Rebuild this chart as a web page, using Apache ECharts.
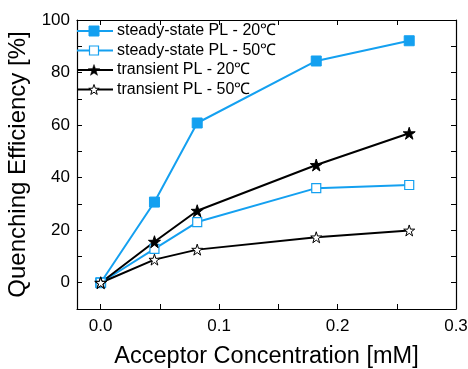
<!DOCTYPE html>
<html><head><meta charset="utf-8">
<script src="https://cdn.jsdelivr.net/npm/echarts@6/dist/echarts.min.js"></script>
<style>html,body{margin:0;padding:0;background:#fff}#c{width:468px;height:369px}</style>
</head><body><div id="c"></div>
<script>
const xVals = [0, 0.0454, 0.0815, 0.182, 0.2605];
const ss20 = [0, 30.7, 60.8, 84.4, 92.1];
const ss50 = [0, 12.9, 23.1, 36.0, 37.2];
const tr20 = [0, 15.6, 27.4, 44.8, 56.9];
const tr50 = [0, 8.8, 12.6, 17.3, 19.9];
const seriesNames = ['steady-state PL - 20\u2103','steady-state PL - 50\u2103','transient PL - 20\u2103','transient PL - 50\u2103'];
const xTickVals = [0, 0.1, 0.2, 0.3];
const yTickVals = [0, 20, 40, 60, 80, 100];
const yMinorVals = [-10, 0, 10, 20, 30, 40, 50, 60, 70, 80, 90, 100];
const xMinorVals = [0, 0.05, 0.1, 0.15, 0.2, 0.25, 0.3];
const xTitle = 'Acceptor Concentration [mM]';
const yTitle = 'Quenching Efficiency [%]';

const BLUE = '#14a0f0';
const STAR = 'path://M50,0 L61.2,34.5 L97.6,34.5 L68.2,55.9 L79.4,90.5 L50,69.1 L20.6,90.5 L31.8,55.9 L2.4,34.5 L38.8,34.5 Z';
const FONT = 'Liberation Sans, Arial, sans-serif';
function pairs(ys){ return xVals.map((x,i)=>[x, ys[i]]); }
function starPoints(cx, cy, r){
  const pts = [];
  for (let k = 0; k < 10; k++) {
    const a = -Math.PI/2 + k * Math.PI/5;
    const rr = k % 2 ? r * 0.4 : r;
    pts.push([cx + rr*Math.cos(a), cy + rr*Math.sin(a)]);
  }
  return pts;
}

const styles = [
  {line:BLUE, kind:'rect', fill:BLUE, stroke:BLUE, size:10, bw:1},
  {line:BLUE, kind:'rect', fill:'#fff', stroke:BLUE, size:9, bw:1.2},
  {line:'#000', kind:'star', fill:'#000', stroke:'#000', size:12, bw:0.5},
  {line:'#000', kind:'star', fill:'#fff', stroke:'#000', size:11, bw:1}
];

const legendEls = [];
seriesNames.forEach((name, i) => {
  const s = styles[i];
  const y = 31 + i * 19.5;
  legendEls.push({type:'line', shape:{x1:77, y1:y, x2:113, y2:y}, style:{stroke:s.line, lineWidth:2}, z:10});
  if (s.kind === 'rect') {
    legendEls.push({type:'rect', shape:{x:94 - s.size/2, y:y - s.size/2, width:s.size, height:s.size},
      style:{fill:s.fill, stroke:s.stroke, lineWidth:s.bw}, z:11});
  } else {
    legendEls.push({type:'polygon', shape:{points:starPoints(94, y + 0.5, s.size/2)},
      style:{fill:s.fill, stroke:s.stroke, lineWidth:s.bw}, z:11});
  }
  legendEls.push({type:'text', x:117, y:y, style:{text:name, font:'16px ' + FONT, fill:'#000', verticalAlign:'middle'}, z:11});
});

const line = {show:true, onZero:false, lineStyle:{color:'#000', width:1.2}};
function ticks(vals){ return {show:true, inside:true, length:5, lineStyle:{color:'#000'}, customValues:vals}; }

const chart = echarts.init(document.getElementById('c'));
chart.setOption({
  animation:false,
  grid:{left:77, right:12, top:20, bottom:60, containLabel:false, outerBoundsMode:'none'},
  graphic:legendEls,
  xAxis:[
    {type:'value', min:-0.02, max:0.3, axisLine:line, splitLine:{show:false},
      name:xTitle, nameLocation:'middle', nameGap:36,
      nameTextStyle:{fontFamily:FONT, fontSize:23.5, color:'#000'},
      axisLabel:{fontFamily:FONT, fontSize:17, color:'#000', margin:9,
        formatter:v=>v.toFixed(1), customValues:xTickVals},
      axisTick:ticks(xMinorVals)},
    {type:'value', min:-0.02, max:0.3, position:'top', axisLine:line, splitLine:{show:false},
      axisLabel:{show:false}, axisTick:ticks(xMinorVals)}
  ],
  yAxis:[
    {type:'value', min:-10, max:100, axisLine:line, splitLine:{show:false},
      name:yTitle, nameLocation:'middle', nameGap:42,
      nameTextStyle:{fontFamily:FONT, fontSize:24, color:'#000'},
      axisLabel:{fontFamily:FONT, fontSize:17, color:'#000', margin:7, customValues:yTickVals},
      axisTick:ticks(yMinorVals)},
    {type:'value', min:-10, max:100, position:'right', axisLine:line, splitLine:{show:false},
      axisLabel:{show:false}, axisTick:ticks(yMinorVals)}
  ],
  series:[
    {name:seriesNames[0], type:'line', data:pairs(ss20), symbol:'rect', symbolSize:10,
      lineStyle:{color:BLUE, width:2}, itemStyle:{color:BLUE, borderColor:BLUE}},
    {name:seriesNames[1], type:'line', data:pairs(ss50), symbol:'rect', symbolSize:9,
      lineStyle:{color:BLUE, width:2}, itemStyle:{color:'#fff', borderColor:BLUE, borderWidth:1.2}},
    {name:seriesNames[2], type:'line', data:pairs(tr20), symbol:STAR, symbolSize:12,
      lineStyle:{color:'#000', width:2}, itemStyle:{color:'#000', borderColor:'#000'}},
    {name:seriesNames[3], type:'line', data:pairs(tr50), symbol:STAR, symbolSize:11,
      lineStyle:{color:'#000', width:2}, itemStyle:{color:'#fff', borderColor:'#000', borderWidth:1}}
  ]
});
</script></body></html>
